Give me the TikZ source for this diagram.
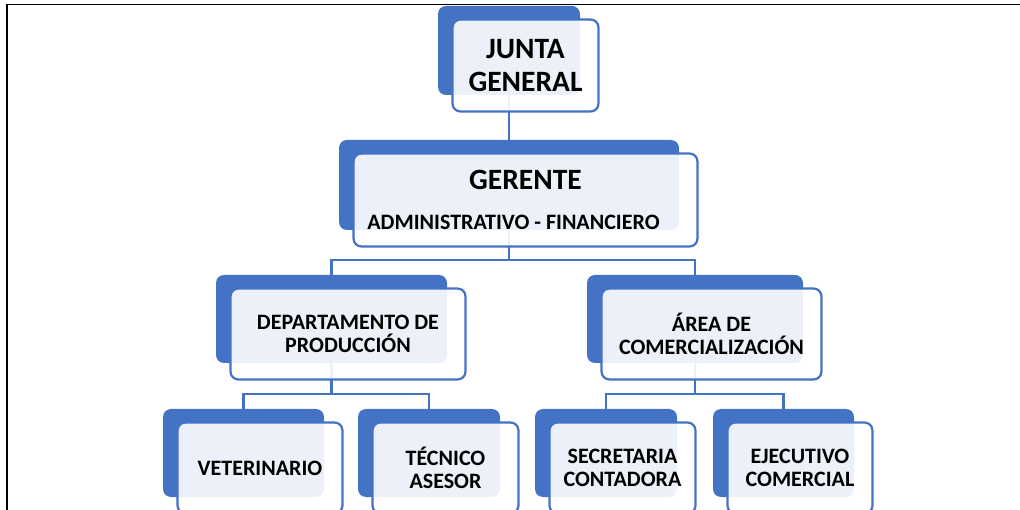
\documentclass[tikz,border=0pt]{standalone}
\usepackage{fontspec}
\setmainfont{Carlito}
\usetikzlibrary{positioning,backgrounds}

\definecolor{orgblue}{RGB}{68,114,196}

\tikzset{
  backbox/.style={rectangle, rounded corners=8pt, fill=orgblue, inner sep=0pt},
  frontbox/.style={rectangle, rounded corners=8pt, draw=orgblue, line width=2.2pt,
    fill=white, fill opacity=0.9, text opacity=1, align=center, inner sep=0pt},
  bigtext/.style={font=\bfseries\fontsize{29.5}{33}\selectfont},
  smalltext/.style={font=\bfseries\fontsize{22}{23.5}\selectfont},
  link/.style={draw=orgblue, line width=2.4pt},
}

\begin{document}
\begin{tikzpicture}[x=1pt,y=-1pt]
      %\draw[help lines] (0,0) grid (1020,510);
      \useasboundingbox (0,0) rectangle (1020,510);
      \clip (0,0) rectangle (1020,510);

      % frame
      \draw[line width=1.8pt] (7,510) -- (7,4.5) -- (1020,4.5);

      % top
      \node[backbox, minimum width=142pt, minimum height=89pt] (junta) at (509,50.5) {};
      \node[frontbox, bigtext, minimum width=146pt, minimum height=92pt] (juntaTxt)
        at ([shift={(16.5,15)}]junta.center) {JUNTA\\GENERAL};

      \node[backbox, minimum width=340pt, minimum height=90pt] (gerente) at (509,185) {};
      \node[frontbox, minimum width=344pt, minimum height=93pt] (gerenteTxt)
        at ([shift={(16.5,15)}]gerente.center)
        {{\bfseries\fontsize{29.5}{33}\selectfont GERENTE}\\[25pt]
         {\bfseries\fontsize{22}{23.5}\selectfont ADMINISTRATIVO - FINANCIERO\hspace*{24pt}}};

      % departments
      \node[backbox, minimum width=231pt, minimum height=88pt] (depto) at (331.5,319) {};
      \node[frontbox, smalltext, minimum width=235pt, minimum height=91pt] (deptoTxt)
        at ([shift={(16.5,15)}]depto.center) {DEPARTAMENTO DE\\PRODUCCIÓN};

      \node[backbox, minimum width=216pt, minimum height=88pt] (area) at (695,319) {};
      \node[frontbox, smalltext, minimum width=220pt, minimum height=91pt] (areaTxt)
        at ([shift={(16.5,15)}]area.center) {ÁREA DE\\COMERCIALIZACIÓN};

      % staff
      \node[backbox, minimum width=161pt, minimum height=88pt] (vet) at (243.5,453) {};
      \node[frontbox, smalltext, minimum width=165pt, minimum height=91pt] (vetTxt)
        at ([shift={(16.5,15)}]vet.center) {VETERINARIO};

      \node[backbox, minimum width=142pt, minimum height=88pt] (tecnico) at (429,453) {};
      \node[frontbox, smalltext, minimum width=146pt, minimum height=91pt] (tecnicoTxt)
        at ([shift={(16.5,15)}]tecnico.center) {TÉCNICO\\ASESOR};

      \node[backbox, minimum width=142pt, minimum height=88pt] (secre) at (606,453) {};
      \node[frontbox, smalltext, minimum width=146pt, minimum height=91pt] (secreTxt)
        at ([shift={(16.5,15)}]secre.center) {SECRETARIA\\CONTADORA};

      \node[backbox, minimum width=141pt, minimum height=88pt] (ejec) at (783.5,453) {};
      \node[frontbox, smalltext, minimum width=145pt, minimum height=91pt] (ejecTxt)
        at ([shift={(16.5,15)}]ejec.center) {EJECUTIVO\\COMERCIAL};

      % connectors under the boxes
      \begin{pgfonlayer}{background}
        \draw[link] (junta.south) -- (gerente.north);
        \draw[link] (gerente.south) -- ++(0,30) -| (depto.north);
        \draw[link] (gerente.south) -- ++(0,30) -| (area.north);
        \draw[link] (depto.south) -- ++(0,31) -| (vet.north);
        \draw[link] (depto.south) -- ++(0,31) -| (tecnico.north);
        \draw[link] (area.south) -- ++(0,31) -| (secre.north);
        \draw[link] (area.south) -- ++(0,31) -| (ejec.north);
      \end{pgfonlayer}
\end{tikzpicture}
\end{document}
